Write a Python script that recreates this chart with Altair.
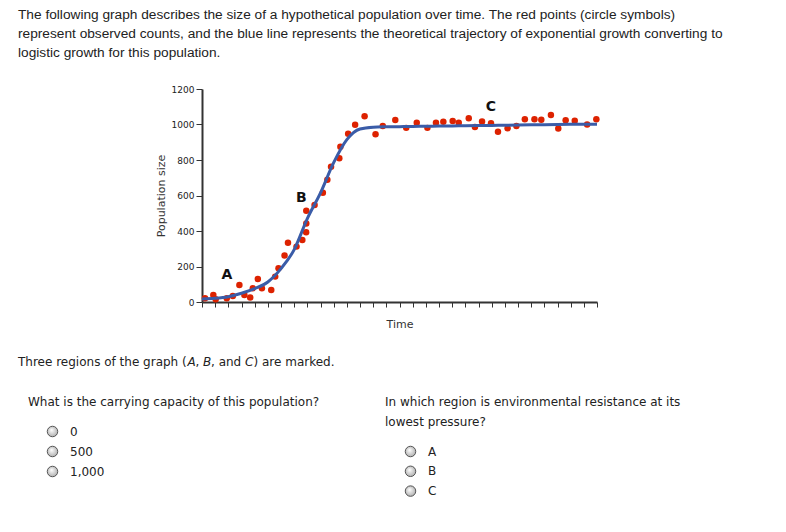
import altair as alt
import pandas as pd

# ---------------- data ----------------
obs_time = [0.23, 0.86, 1.04, 1.88, 2.34, 2.84, 3.22, 3.66, 3.86, 4.24,
            4.55, 5.26, 5.56, 5.81, 6.27, 6.53, 7.18, 7.62, 7.91, 7.92,
            7.92, 8.55, 9.18, 9.52, 9.80, 10.43, 10.51, 11.10, 11.63, 12.35,
            13.18, 13.73, 14.68, 15.51, 16.31, 17.12, 17.77, 18.33, 19.04, 19.50,
            20.26, 20.73, 21.27, 21.95, 22.48, 23.21, 23.88, 24.52, 25.25, 25.77,
            26.50, 27.06, 27.62, 28.31, 29.25, 29.95]
obs_count = [21, 39, 15, 21, 34, 96, 39, 26, 77, 130,
             77, 68, 143, 190, 262, 334, 312, 349, 393, 442,
             514, 546, 616, 689, 762, 810, 875, 948, 999, 1047,
             945, 992, 1025, 981, 1010, 981, 1010, 1016, 1020, 1010,
             1035, 986, 1017, 1007, 959, 979, 992, 1029, 1029, 1027,
             1054, 977, 1024, 1021, 1000, 1029]

line_time = list(range(0, 31))
line_count = [17, 21, 30, 49, 75, 113, 188, 295, 470, 615,
              785, 915, 975, 985, 987, 988, 989, 990, 991, 992,
              993, 994, 995, 996, 997, 998, 999, 1000, 1001, 1002, 1002]

region_label = ["A", "B", "C"]
region_time = [1.9, 7.55, 21.95]
region_count = [152, 586, 1099]

y_ticks = [0, 200, 400, 600, 800, 1000, 1200]
x_ticks = list(range(0, 31))

intro_lines = [
    "The following graph describes the size of a hypothetical population over time. The red points (circle symbols)",
    "represent observed counts, and the blue line represents the theoretical trajectory of exponential growth converting to",
    "logistic growth for this population.",
]
regions_sentence = ["Three regions of the graph (", "A", ", ", "B", ", and ", "C", ") are marked."]
regions_italic = [False, True, False, True, False, True, False]
q1_text = "What is the carrying capacity of this population?"
q1_options = ["0", "500", "1,000"]
q2_lines = ["In which region is environmental resistance at its", "lowest pressure?"]
q2_options = ["A", "B", "C"]

# ---------------- layout ----------------
X0, Y0 = 202, 89      # page position of the plot origin
W, H = 395, 213
PAD = {"left": X0 - 8, "top": Y0 - 8, "right": 168, "bottom": 200}

TEXT_FONT = "DejaVu Sans"
INTRO_FONT = "Liberation Sans"
TXT_COLOR = "#222222"


def page_text(s, px, py, size=12, font=TEXT_FONT, style="normal", weight="normal",
              baseline="middle"):
    return alt.Chart(pd.DataFrame({"t": [s]})).mark_text(
        align="left", baseline=baseline, font=font, fontSize=size,
        fontStyle=style, fontWeight=weight, color=TXT_COLOR,
    ).encode(text="t:N", x=alt.value(px - X0), y=alt.value(py - Y0))


radio_fill = alt.RadialGradient(
    gradient="radial",
    stops=[alt.GradientStop(offset=0, color="#ffffff"),
           alt.GradientStop(offset=1, color="#a0a0a0")],
    x1=0.4, y1=0.35, r1=0.0, x2=0.5, y2=0.5, r2=0.65,
)


def radio(px, py):
    return alt.Chart(pd.DataFrame({"k": [0]})).mark_point(
        shape="circle", size=110, filled=True, fill=radio_fill,
        stroke="#555555", strokeWidth=1, opacity=1,
    ).encode(x=alt.value(px - X0), y=alt.value(py - Y0))


obs = pd.DataFrame({"time": obs_time, "count": obs_count})
traj = pd.DataFrame({"time": line_time, "count": line_count})
regions = pd.DataFrame({"label": region_label, "time": region_time, "count": region_count})

xscale = alt.Scale(domain=[0, 30], nice=False, zero=False)
yscale = alt.Scale(domain=[0, 1200], nice=False)

x_axis = alt.Axis(values=x_ticks, tickCount=31, labels=False, labelOverlap=False,
                  title="Time", grid=False,
                  titleFont=TEXT_FONT, titleFontSize=11, titleFontWeight="normal",
                  titleColor="#333333", titlePadding=11,
                  domainColor="#333333", domainWidth=2,
                  tickColor="#333333", tickSize=5, tickWidth=1)
y_axis = alt.Axis(values=y_ticks, tickCount=7, format="d", labelOverlap=False, labelFlush=False,
                  title="Population size", grid=False,
                  labelFont=TEXT_FONT, labelFontSize=9, labelColor="#222222", labelPadding=2,
                  titleFont=TEXT_FONT, titleFontSize=11, titleFontWeight="normal",
                  titleColor="#333333", titlePadding=5,
                  domainColor="#333333", domainWidth=2,
                  tickColor="#333333", tickSize=6, tickWidth=1)

points = alt.Chart(obs).mark_circle(size=42, color="#dd2200", opacity=1).encode(
    x=alt.X("time:Q", scale=xscale, axis=x_axis),
    y=alt.Y("count:Q", scale=yscale, axis=y_axis),
)
curve = alt.Chart(traj).mark_line(color="#3a5ca8", strokeWidth=3, interpolate="monotone").encode(
    x=alt.X("time:Q", scale=xscale),
    y=alt.Y("count:Q", scale=yscale),
)
labels = alt.Chart(regions).mark_text(font=TEXT_FONT, fontSize=14, fontWeight="bold",
                                      color="#111111").encode(
    x=alt.X("time:Q", scale=xscale),
    y=alt.Y("count:Q", scale=yscale),
    text="label:N",
)

layers = [points, curve, labels]

# intro paragraph
for i, s in enumerate(intro_lines):
    layers.append(page_text(s, 18, 18.5 + i * 19, size=13.7, font=INTRO_FONT,
                            baseline="alphabetic"))

# regions sentence with italic letters
seg_x = [18, 187.5, 195.5, 203, 211, 245, 253.5]
for s, it, sx in zip(regions_sentence, regions_italic, seg_x):
    layers.append(page_text(s, sx, 361.5, style="italic" if it else "normal"))

# question 1
layers.append(page_text(q1_text, 28, 401.5))
for i, s in enumerate(q1_options):
    py = 431.5 + i * 20
    layers.append(radio(52.5, py))
    layers.append(page_text(s, 70, py))

# question 2
for i, s in enumerate(q2_lines):
    layers.append(page_text(s, 385, 401.5 + i * 20.5))
for i, s in enumerate(q2_options):
    py = 451.5 + i * 19.8
    layers.append(radio(410.5, py))
    layers.append(page_text(s, 428, py))

chart = alt.layer(*layers).properties(
    width=W, height=H, padding=PAD, autosize=alt.AutoSizeParams(type="none"),
    background="white",
).configure_view(stroke=None)

chart.save("out.html", embed_options={"renderer": "svg", "actions": False})
